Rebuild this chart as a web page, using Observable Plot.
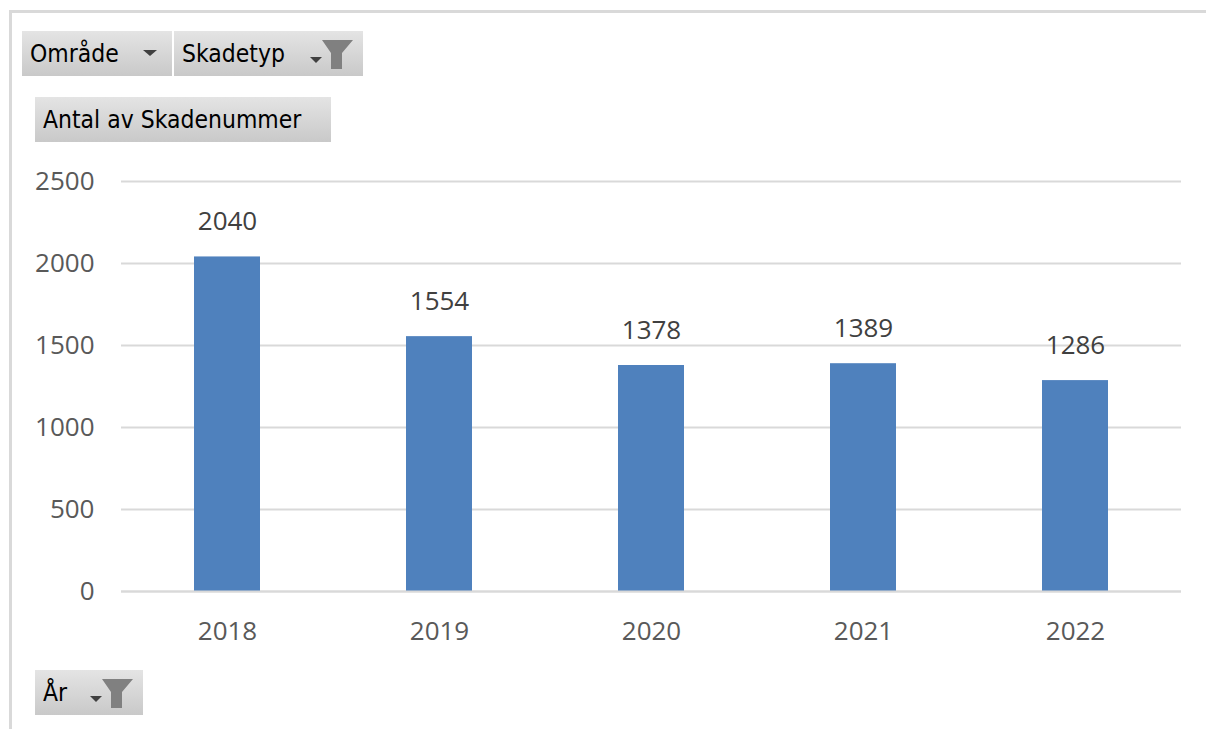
<!DOCTYPE html>
<html>
<head>
<meta charset="utf-8">
<script src="https://cdn.jsdelivr.net/npm/d3@7"></script>
<script src="https://cdn.jsdelivr.net/npm/@observablehq/plot@0.6"></script>
<style>
  html, body { margin: 0; padding: 0; background: #fff; }
  #wrap { position: relative; width: 1206px; height: 729px; overflow: hidden; }
  #frameTop { position: absolute; left: 9px; top: 10px; width: 1197px; height: 3px; background: #d9d9d9; }
  #frameLeft { position: absolute; left: 9px; top: 10px; width: 3px; height: 719px; background: #d9d9d9; }
  .btn { position: absolute; height: 45px; box-sizing: border-box;
    background: linear-gradient(#e4e4e4, #c9c9c9);
    font-family: "DejaVu Sans", sans-serif; font-size: 22px; color: #000;
    display: flex; align-items: center; padding-left: 8px; white-space: nowrap; }
  .btn span { display: inline-block; transform: scaleY(1.12); transform-origin: center; }
  .btn svg { position: absolute; }
  #chart { position: absolute; left: 0; top: 0; }
</style>
</head>
<body>
<div id="wrap">
  <div id="chart"></div>
  <div id="frameTop"></div>
  <div id="frameLeft"></div>
  <div class="btn" style="left:22px;top:31px;width:150px;"><span>Område</span>
    <svg style="left:121px;top:19px" width="16" height="8"><path d="M0,0 L14,0 L7,6 Z" fill="#404040"/></svg></div>
  <div class="btn" style="left:174px;top:31px;width:189px;"><span>Skadetyp</span>
    <svg style="left:136px;top:8px" width="46" height="32"><path d="M0,18 L12,18 L6,24 Z" fill="#404040"/><path d="M12,1 L43,1 L32,14 L32,30 L21,30 L21,14 Z" fill="#808080"/></svg></div>
  <div class="btn" style="left:35px;top:97px;width:296px;"><span>Antal av Skadenummer</span></div>
  <div class="btn" style="left:35px;top:670px;width:108px;"><span>År</span>
    <svg style="left:55px;top:8px" width="46" height="32"><path d="M0,18 L12,18 L6,24 Z" fill="#404040"/><path d="M12,1 L43,1 L32,14 L32,30 L21,30 L21,14 Z" fill="#808080"/></svg></div>
</div>
<script>
const years = ["2018", "2019", "2020", "2021", "2022"];
const counts = [2040, 1554, 1378, 1389, 1286];
const yTicks = [0, 500, 1000, 1500, 2000, 2500];

const data = years.map((y, i) => ({year: y, count: counts[i]}));

const chart = Plot.plot({
  width: 1206,
  height: 729,
  marginLeft: 121,
  marginRight: 25,
  marginTop: 181,
  marginBottom: 138,
  style: {fontFamily: "'Open Sans', sans-serif", fontSize: "26px", color: "#595959", background: "transparent"},
  x: {domain: years, paddingInner: 0.69, paddingOuter: 0.345, label: null},
  y: {domain: [0, 2500], label: null},
  marks: [
    Plot.gridY(yTicks, {stroke: "#d9d9d9", strokeOpacity: 1, strokeWidth: 2}),
    Plot.barY(data, {x: "year", y: "count", fill: "#4f81bd"}),
    Plot.ruleY([0], {stroke: "#d9d9d9", strokeWidth: 2}),
    Plot.axisY(yTicks, {tickSize: 0, tickPadding: 27, fill: "#595959", fontSize: 26, tickFormat: d => String(d)}),
    Plot.axisX({tickSize: 0, tickPadding: 30, fill: "#595959", fontSize: 26}),
    Plot.text(data, {x: "year", y: "count", text: d => String(d.count), dy: -35, fill: "#404040", fontSize: 26})
  ]
});
document.getElementById("chart").appendChild(chart);
</script>
</body>
</html>
